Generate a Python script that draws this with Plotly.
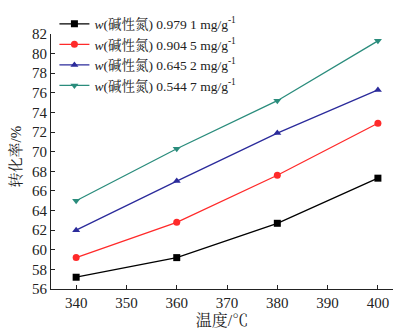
import plotly.graph_objects as go

temps = [340, 360, 380, 400]
s1 = [57.2, 59.2, 62.7, 67.3]
s2 = [59.2, 62.8, 67.6, 72.9]
s3 = [62.0, 67.0, 71.9, 76.3]
s4 = [65.0, 70.3, 75.2, 81.3]
names = ["<i>w</i>(碱性氮) 0.979 1 mg/g<sup>-1</sup>",
         "<i>w</i>(碱性氮) 0.904 5 mg/g<sup>-1</sup>",
         "<i>w</i>(碱性氮) 0.645 2 mg/g<sup>-1</sup>",
         "<i>w</i>(碱性氮) 0.544 7 mg/g<sup>-1</sup>"]
colors = ["#000000", "#ff2a2a", "#2b2b9b", "#2a8c7c"]
symbols = ["square", "circle", "triangle-up", "triangle-down"]
y_title = "转化率/%"
x_title = "温度/℃"

FONT = "Liberation Serif, Noto Serif CJK SC, Noto Sans CJK SC, serif"

fig = go.Figure()
for ys, n, c, s in zip([s1, s2, s3, s4], names, colors, symbols):
    fig.add_trace(go.Scatter(x=temps, y=ys, name=n, mode="lines+markers",
                             line=dict(color=c, width=1.3),
                             marker=dict(color=c, symbol=s, size=7)))

fig.add_annotation(text=y_title, textangle=-90, xref="paper", yref="paper",
                   x=-0.102, y=0.52, xanchor="center", yanchor="middle",
                   showarrow=False, font=dict(size=15, family=FONT, color="#222"))

fig.update_layout(
    width=402, height=334,
    margin=dict(l=51, r=9, t=28, b=45),
    paper_bgcolor="white", plot_bgcolor="white",
    font=dict(family=FONT, size=15, color="#222"),
    showlegend=True,
    legend=dict(x=0.01, y=1.1, xanchor="left", yanchor="top",
                bgcolor="rgba(0,0,0,0)", font=dict(size=13.5, family=FONT),
                tracegroupgap=0, itemwidth=30),
    xaxis=dict(range=[335, 403], tickvals=[340, 350, 360, 370, 380, 390, 400],
               ticks="inside", ticklen=4, tickcolor="#222", showline=True,
               linecolor="#222", linewidth=1.2, showgrid=False, zeroline=False,
               title=dict(text=x_title, standoff=4, font=dict(size=16))),
    yaxis=dict(range=[56, 82], dtick=2, ticks="inside", ticklen=4, tickcolor="#222",
               showline=True, linecolor="#222", linewidth=1.2, showgrid=False,
               zeroline=False),
)
fig.write_html("out.html")
